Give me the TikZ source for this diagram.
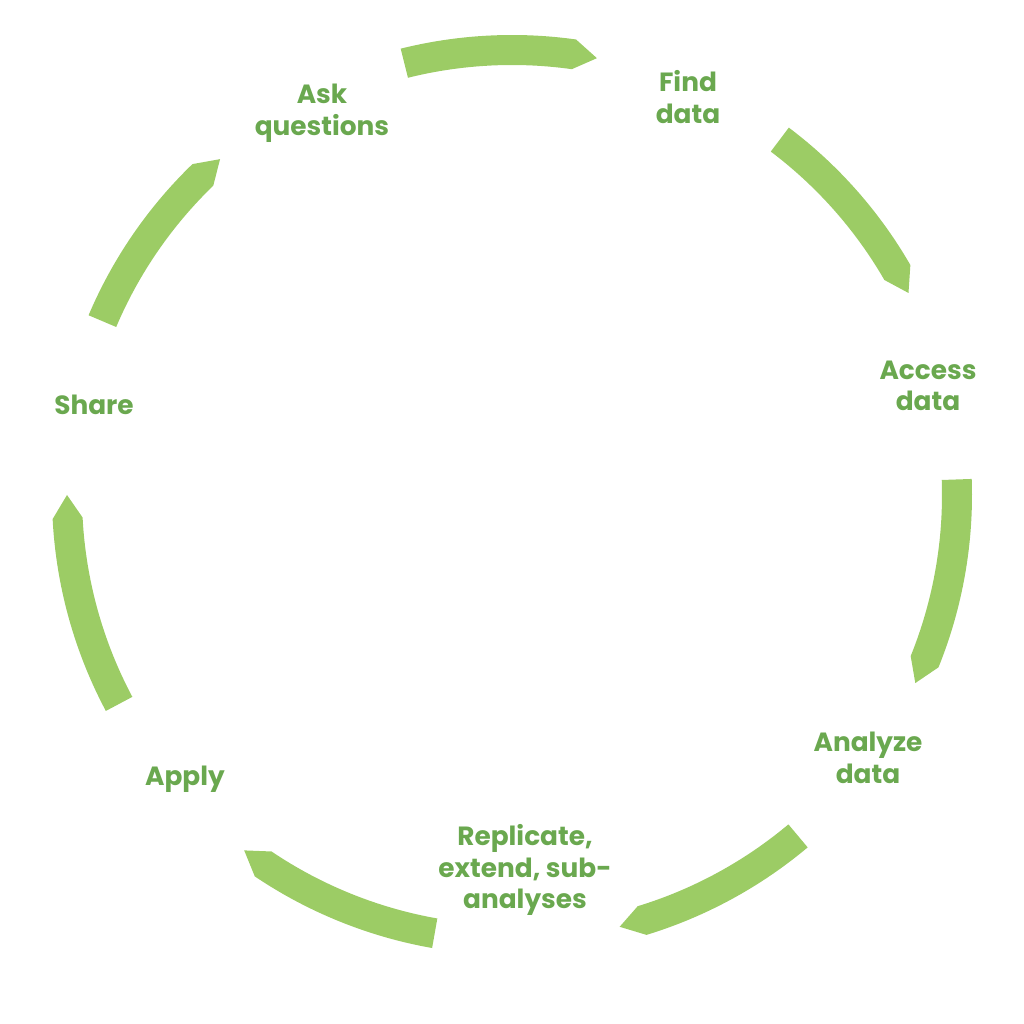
\documentclass[tikz,border=0pt]{standalone}
\usepackage{fontspec}
\setmainfont{Poppins}
\definecolor{leaf}{HTML}{9CCC65}
\definecolor{leafdark}{HTML}{6AA84F}
\begin{document}
\begin{tikzpicture}[label/.style={text=leafdark,font=\fontsize{7.5}{9}\selectfont\bfseries,align=center}]
\useasboundingbox (0,0) rectangle (10.24,10.24);

% Arrow segments around the cycle (clockwise)
\begin{scope}[shift={(5.12,5.29)}]
\foreach \s/\e in {104/79, 53/27, 2/-25, -50/-76, -100/-127, -152/-180, 157/131}
  \fill[leaf] (\s:4.6) arc[start angle=\s, end angle=\e+3, radius=4.6]
    -- (\e:4.45) -- (\e+3:4.3) arc[start angle=\e+3, end angle=\s, radius=4.3] -- cycle;
\end{scope}

% Labels
\node[label] (ask) at (3.22,9.11) {Ask\\questions};
\node[label] (find) at (6.88,9.27) {Find\\data};
\node[label] (access) at (9.28,6.38) {Access\\data};
\node[label] (analyze) at (8.68,2.66) {Analyze\\data};
\node[label] (replicate) at (5.25,1.54) {Replicate,\\extend, sub-\\analyses};
\node[label] (apply) at (1.85,2.45) {Apply};
\node[label] (share) at (0.94,6.19) {Share};

\end{tikzpicture}
\end{document}
